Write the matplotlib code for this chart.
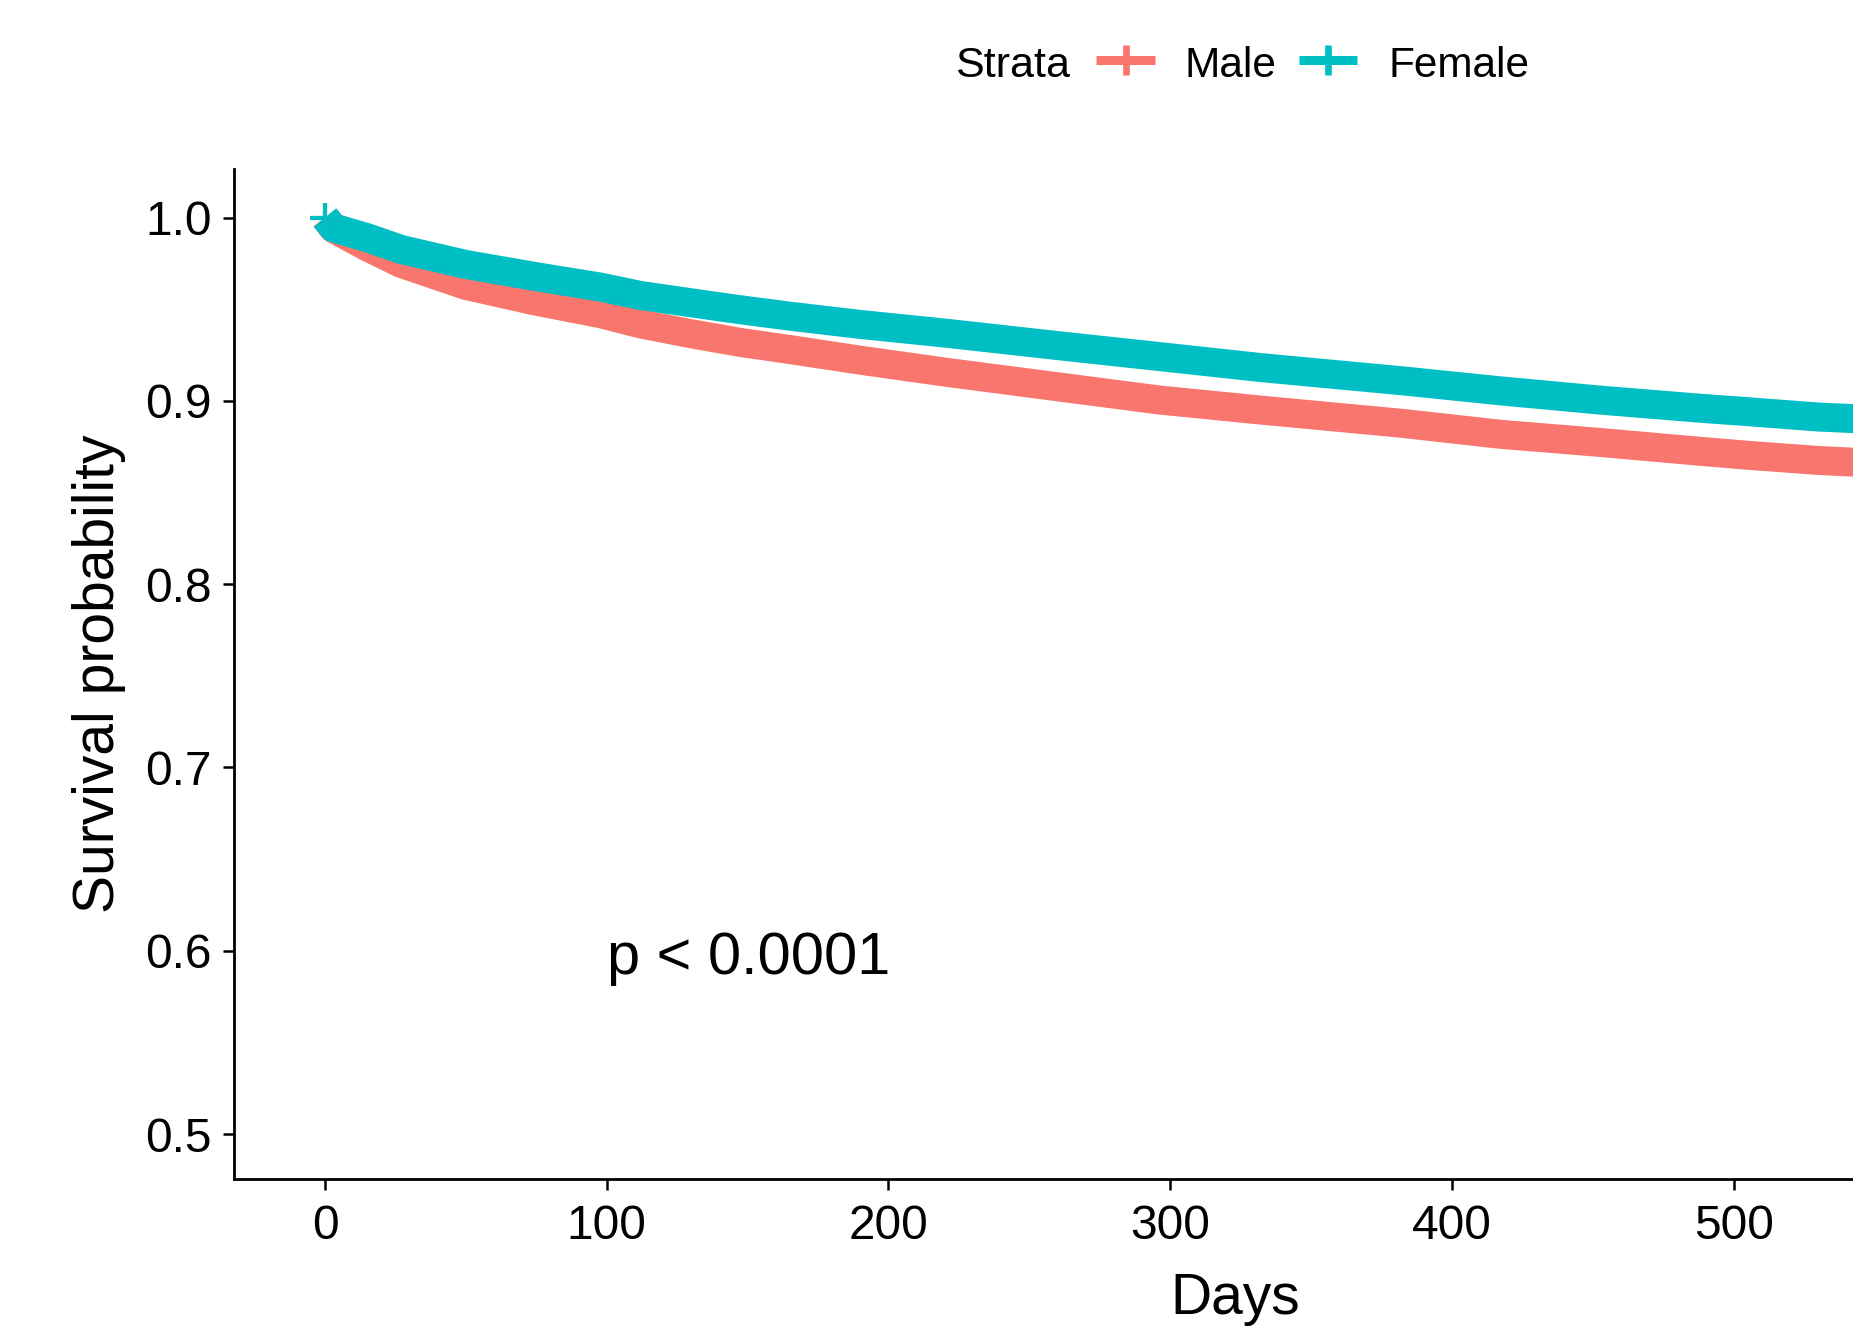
import matplotlib
matplotlib.use("Agg")
import matplotlib.pyplot as plt
from matplotlib.lines import Line2D

plt.rcParams["font.family"] = ["Liberation Sans", "DejaVu Sans"]

# Kaplan-Meier survival estimates by sex
days = [0, 3, 15, 27, 50, 74, 98, 112, 130, 147, 165, 190, 220, 261, 296,
        332, 382, 417, 452, 488, 506, 530, 550]
surv_male = [1.0, 0.994, 0.984, 0.975, 0.963, 0.9547, 0.9475, 0.9420, 0.9366,
             0.9320, 0.9280, 0.9222, 0.9157, 0.9075, 0.9005, 0.8950, 0.8878,
             0.8818, 0.8774, 0.8725, 0.8702, 0.8675, 0.8660]
surv_female = [1.0, 0.9944, 0.989, 0.9826, 0.9744, 0.968, 0.962, 0.9575, 0.9535,
               0.9498, 0.9462, 0.9417, 0.9370, 0.9300, 0.9242, 0.9182, 0.9110,
               0.9055, 0.9005, 0.8960, 0.8940, 0.8912, 0.8898]

strata = ["Male", "Female"]
colors = {"Male": "#F8766D", "Female": "#00BFC4"}
series = {"Male": surv_male, "Female": surv_female}

x_ticks = [0, 100, 200, 300, 400, 500]
y_ticks = [0.5, 0.6, 0.7, 0.8, 0.9, 1.0]
p_label = "p < 0.0001"

W, H = 1853, 1332
fig = plt.figure(figsize=(W / 100, H / 100), dpi=100)
ax = fig.add_axes([234 / W, 1 - 1179 / H, (2236 - 234) / W, (1179 - 169) / H])

band_lw = 29 * 72 / 100  # curve drawn as a dense band of censor marks
for name in strata:
    ax.plot(days, series[name], color=colors[name], lw=band_lw,
            solid_capstyle="butt", solid_joinstyle="round", zorder=3)
    ax.plot(days[0], series[name][0], marker="+", ms=21, mew=3,
            color=colors[name], zorder=4)

ax.set_xlim(-32.3, 678.3)
ax.set_ylim(0.4755, 1.0265)
ax.set_xticks(x_ticks)
ax.set_yticks(y_ticks)
ax.set_yticklabels([f"{v:.1f}" for v in y_ticks])

for side in ("top", "right"):
    ax.spines[side].set_visible(False)
for side in ("left", "bottom"):
    ax.spines[side].set_linewidth(2.0)
    ax.spines[side].set_color("black")
ax.tick_params(axis="both", length=8, width=1.8, color="black",
               labelsize=34.5, labelcolor="black")
ax.tick_params(axis="x", pad=10)
ax.tick_params(axis="y", pad=8)

ax.set_xlabel("Days", fontsize=41)
ax.set_ylabel("Survival probability", fontsize=41)
ax.xaxis.set_label_coords(0.5, -0.092)
ax.yaxis.set_label_coords(-0.054, 0.5)

ax.text(100, 0.5873, p_label, fontsize=42.8, ha="left", va="baseline",
        color="black")

# legend across the top
fy = 1 - 77 / H
fig.text(955 / W, fy, "Strata", fontsize=31, ha="left", va="baseline")
key_spans = {"Male": (1096, 1155), "Female": (1299, 1357)}
label_x = {"Male": 1184, "Female": 1388}
ky = 1 - 59.5 / H
for name in strata:
    x0, x1 = key_spans[name]
    fig.add_artist(Line2D([x0 / W, x1 / W], [ky, ky], transform=fig.transFigure,
                          color=colors[name], lw=6.5, solid_capstyle="butt"))
    fig.add_artist(Line2D([(x0 + x1) / 2 / W], [ky], transform=fig.transFigure,
                          color=colors[name], marker="+", ms=21, mew=4.8, lw=0))
    fig.text(label_x[name] / W, fy, name, fontsize=30.5, ha="left", va="baseline")

fig.savefig("out.png", dpi=100, facecolor="white")
